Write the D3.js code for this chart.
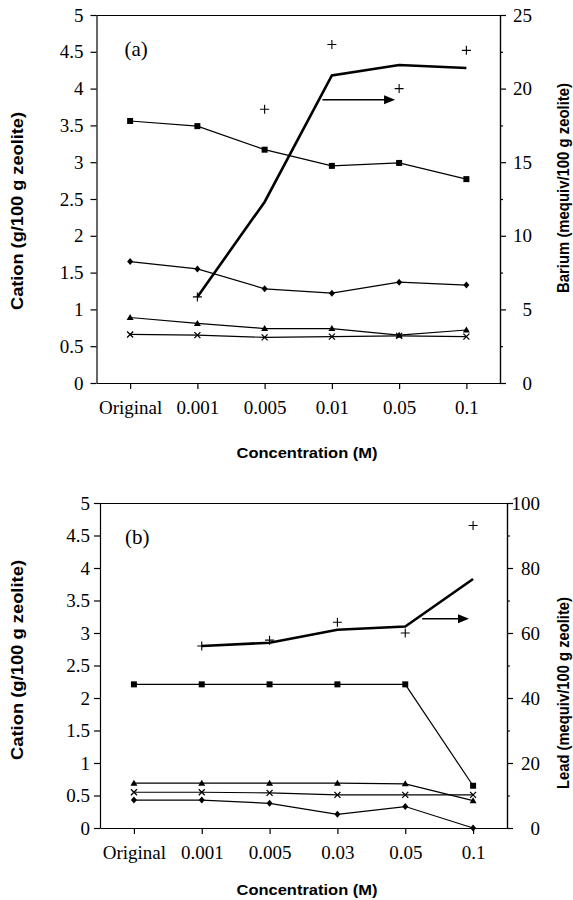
<!DOCTYPE html>
<html>
<head>
<meta charset="utf-8">
<script src="https://cdn.jsdelivr.net/npm/d3@7"></script>
<style>
  body { margin: 0; background: #fff; }
  svg { display: block; }
</style>
</head>
<body>
<script>
// Panel (a): barium exchange
var categoriesA = ["Original", "0.001", "0.005", "0.01", "0.05", "0.1"];
var squaresA   = [3.56, 3.49, 3.17, 2.95, 2.99, 2.77];
var diamondsA  = [1.65, 1.55, 1.28, 1.22, 1.37, 1.33];
var trianglesA = [0.89, 0.81, 0.74, 0.74, 0.65, 0.72];
var crossesA   = [0.66, 0.65, 0.62, 0.63, 0.64, 0.63];
var bariumLineA   = [null, 5.85, 12.3, 20.9, 21.6, 21.4];
var bariumPointsA = [null, 5.85, 18.6, 23.0, 20.0, 22.6];

// Panel (b): lead exchange
var categoriesB = ["Original", "0.001", "0.005", "0.03", "0.05", "0.1"];
var squaresB   = [2.21, 2.21, 2.21, 2.21, 2.21, 0.65];
var trianglesB = [0.69, 0.69, 0.69, 0.69, 0.68, 0.42];
var crossesB   = [0.55, 0.55, 0.54, 0.51, 0.51, 0.51];
var diamondsB  = [0.43, 0.43, 0.38, 0.21, 0.33, 0.0];
var leadLineB   = [null, 56, 57, 61, 62, 76.6];
var leadPointsB = [null, 56, 57.8, 63.3, 60, 93.1];

var leftTicks = [0, 0.5, 1, 1.5, 2, 2.5, 3, 3.5, 4, 4.5, 5];
var rightTicksA = [0, 5, 10, 15, 20, 25];
var rightTicksB = [0, 20, 40, 60, 80, 100];

var svg = d3.select("body").append("svg")
  .attr("width", 573)
  .attr("height", 900);

var serif = "'Liberation Serif', 'Times New Roman', serif";
var sans = "'Liberation Sans', Arial, sans-serif";

function drawPanel(p) {
  var width = p.right - p.left;
  var height = p.bottom - p.top;
  var g = svg.append("g").attr("transform", "translate(" + p.left + "," + p.top + ")");

  var x = d3.scalePoint().domain(p.categories).range([0, width]).padding(0.5);
  var step = x.step();
  var y = d3.scaleLinear().domain([0, 5]).range([height, 0]);
  var y2 = d3.scaleLinear().domain([0, p.rightMax]).range([height, 0]);

  // frame top line
  g.append("line").attr("x1", 0).attr("x2", width).attr("y1", 0.5).attr("y2", 0.5)
    .attr("stroke", "#000").attr("stroke-width", 1.2);

  // left axis
  var la = g.append("g")
    .call(d3.axisLeft(y).tickValues(leftTicks).tickSize(6).tickSizeOuter(0).tickPadding(p.leftPad)
      .tickFormat(function (d) { return String(d); }));
  la.selectAll("text").attr("font-family", serif).attr("font-size", 19).attr("fill", "#000");

  // right axis
  var minor = [];
  for (var i = 0; i < p.rightTicks.length - 1; i++) minor.push((p.rightTicks[i] + p.rightTicks[i + 1]) / 2);
  g.append("g").attr("transform", "translate(" + width + ",0)")
    .call(d3.axisRight(y2).tickValues(minor).tickSize(3).tickSizeOuter(0).tickFormat(""));
  var ra = g.append("g").attr("transform", "translate(" + width + ",0)")
    .call(d3.axisRight(y2).tickValues(p.rightTicks).tickSize(6).tickSizeOuter(0));
  ra.selectAll("text").attr("font-family", serif).attr("font-size", 19).attr("fill", "#000")
    .attr("text-anchor", "end").attr("x", p.rightLabelEnd);

  // bottom axis
  var xa = g.append("g").attr("transform", "translate(0," + height + ")")
    .call(d3.axisBottom(x).tickSize(6).tickSizeOuter(0).tickPadding(12));
  xa.selectAll("text").attr("font-family", serif).attr("font-size", 19).attr("fill", "#000");
  g.selectAll(".domain, .tick line").attr("stroke", "#000").attr("stroke-width", 1.2);

  // cation series
  var thin = d3.line()
    .defined(function (d) { return d != null; })
    .x(function (d, i) { return x(p.categories[i]); })
    .y(function (d) { return y(d); });

  p.series.forEach(function (s) {
    g.append("path").attr("d", thin(s.values))
      .attr("fill", "none").attr("stroke", "#000").attr("stroke-width", 1.2);
    var pts = g.append("g");
    s.values.forEach(function (v, i) {
      var cx = x(p.categories[i]), cy = y(v);
      if (s.shape === "square") {
        pts.append("rect").attr("x", cx - 3).attr("y", cy - 3).attr("width", 6).attr("height", 6).attr("fill", "#000");
      } else if (s.shape === "diamond") {
        pts.append("path").attr("d", "M" + cx + "," + (cy - 3.5) + "L" + (cx + 3) + "," + cy + "L" + cx + "," + (cy + 3.5) + "L" + (cx - 3) + "," + cy + "Z").attr("fill", "#000");
      } else if (s.shape === "triangle") {
        pts.append("path").attr("d", "M" + cx + "," + (cy - 3.5) + "L" + (cx + 3.5) + "," + (cy + 2.5) + "L" + (cx - 3.5) + "," + (cy + 2.5) + "Z").attr("fill", "#000");
      } else {
        pts.append("path").attr("d", "M" + (cx - 3) + "," + (cy - 3) + "L" + (cx + 3) + "," + (cy + 3) + "M" + (cx + 3) + "," + (cy - 3) + "L" + (cx - 3) + "," + (cy + 3))
          .attr("stroke", "#000").attr("stroke-width", 1.3);
      }
    });
  });

  // right-axis series: thick line and plus points
  var thick = d3.line()
    .defined(function (d) { return d != null; })
    .x(function (d, i) { return x(p.categories[i]); })
    .y(function (d) { return y2(d); });
  g.append("path").attr("d", thick(p.rightLine))
    .attr("fill", "none").attr("stroke", "#000").attr("stroke-width", 2.6);
  p.rightPoints.forEach(function (v, i) {
    if (v == null) return;
    var cx = x(p.categories[i]), cy = y2(v);
    g.append("path").attr("d", "M" + (cx - 4.5) + "," + cy + "L" + (cx + 4.5) + "," + cy + "M" + cx + "," + (cy - 4.5) + "L" + cx + "," + (cy + 4.5))
      .attr("stroke", "#000").attr("stroke-width", 1.1);
  });

  // arrow pointing to the right axis
  var ax1 = x(p.categories[0]) + p.arrow.from * step;
  var ax2 = x(p.categories[0]) + p.arrow.to * step;
  var ay = y(p.arrow.value);
  g.append("line").attr("x1", ax1).attr("x2", ax2 - 8).attr("y1", ay).attr("y2", ay)
    .attr("stroke", "#000").attr("stroke-width", 1.5);
  g.append("path").attr("d", "M" + ax2 + "," + ay + "L" + (ax2 - 11) + "," + (ay - 4.5) + "L" + (ax2 - 11) + "," + (ay + 4.5) + "Z")
    .attr("fill", "#000");

  // panel label
  g.append("text").attr("x", p.labelX).attr("y", 41)
    .attr("font-family", serif).attr("font-size", 21).text(p.label);

  // axis titles
  g.append("text")
    .attr("x", 307 - p.left).attr("y", height + p.xTitleY)
    .attr("text-anchor", "middle").attr("font-family", sans).attr("font-weight", "bold")
    .attr("font-size", 15.5).attr("textLength", 141).attr("lengthAdjust", "spacingAndGlyphs")
    .text("Concentration (M)");

  g.append("text")
    .attr("transform", "translate(" + (23 - p.left) + "," + (p.leftTitleY - p.top) + ") rotate(-90)")
    .attr("text-anchor", "middle").attr("font-family", sans).attr("font-weight", "bold")
    .attr("font-size", 16).attr("textLength", p.leftTitleLen).attr("lengthAdjust", "spacingAndGlyphs")
    .text("Cation (g/100 g zeolite)");

  g.append("text")
    .attr("transform", "translate(" + (569 - p.left) + "," + (p.rightTitleY - p.top) + ") rotate(-90)")
    .attr("text-anchor", "middle").attr("font-family", sans).attr("font-weight", "bold")
    .attr("font-size", 16).attr("textLength", p.rightTitleLen).attr("lengthAdjust", "spacingAndGlyphs")
    .text(p.rightTitle);
}

drawPanel({
  left: 96.5, right: 500, top: 15, bottom: 383,
  categories: categoriesA,
  series: [
    { values: squaresA, shape: "square" },
    { values: diamondsA, shape: "diamond" },
    { values: trianglesA, shape: "triangle" },
    { values: crossesA, shape: "cross" }
  ],
  rightMax: 25, rightTicks: rightTicksA,
  rightLine: bariumLineA, rightPoints: bariumPointsA,
  arrow: { from: 2.86, to: 3.94, value: 3.85 },
  leftPad: 7, rightLabelEnd: 32,
  label: "(a)", labelX: 28,
  xTitleY: 75,
  leftTitleY: 211, leftTitleLen: 198,
  rightTitle: "Barium (mequiv/100 g zeolite)", rightTitleY: 188, rightTitleLen: 210
});

drawPanel({
  left: 100, right: 507, top: 503, bottom: 828,
  categories: categoriesB,
  series: [
    { values: squaresB, shape: "square" },
    { values: trianglesB, shape: "triangle" },
    { values: crossesB, shape: "cross" },
    { values: diamondsB, shape: "diamond" }
  ],
  rightMax: 100, rightTicks: rightTicksB,
  rightLine: leadLineB, rightPoints: leadPointsB,
  arrow: { from: 4.25, to: 4.94, value: 3.22 },
  leftPad: 4, rightLabelEnd: 33,
  label: "(b)", labelX: 25,
  xTitleY: 67,
  leftTitleY: 660, leftTitleLen: 200,
  rightTitle: "Lead (mequiv/100 g zeolite)", rightTitleY: 693, rightTitleLen: 192
});
</script>
</body>
</html>
